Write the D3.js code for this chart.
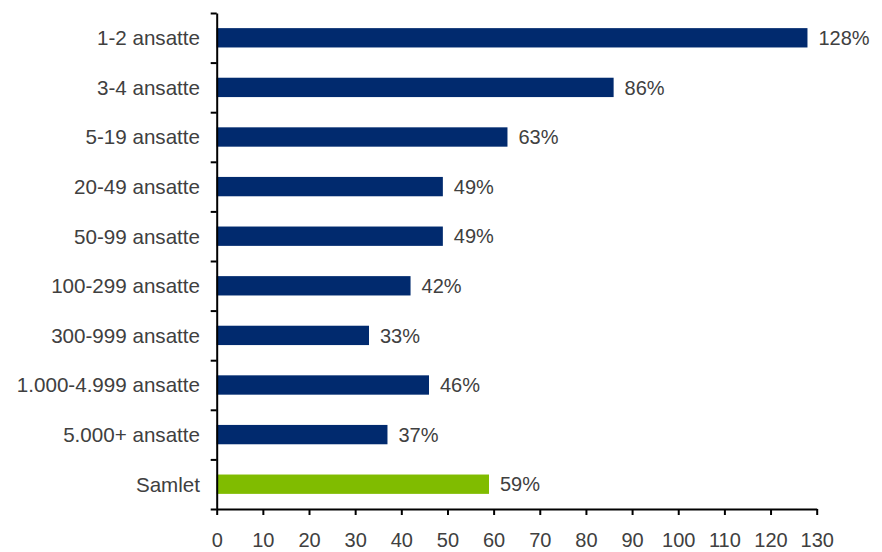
<!DOCTYPE html>
<html><head><meta charset="utf-8">
<script src="https://cdn.jsdelivr.net/npm/d3@7"></script>
<style>
html,body{margin:0;padding:0;background:#fff;}
svg{display:block;font-family:"Liberation Sans",Arial,sans-serif;}
</style></head>
<body>
<svg id="c" width="882" height="552"></svg>
<script>
const categories = ["1-2 ansatte","3-4 ansatte","5-19 ansatte","20-49 ansatte","50-99 ansatte","100-299 ansatte","300-999 ansatte","1.000-4.999 ansatte","5.000+ ansatte","Samlet"];
const values = [128, 86, 63, 49, 49, 42, 33, 46, 37, 59];
const valueLabels = ["128%","86%","63%","49%","49%","42%","33%","46%","37%","59%"];
const xTicks = [0,10,20,30,40,50,60,70,80,90,100,110,120,130];

const svg = d3.select("#c");
const x0 = 216.7, x1 = 816.7, yTop = 13, yBot = 509;
const textColor = "#404040";
const navy = "#012A6E", green = "#80BC00";

const x = d3.scaleLinear().domain([0,130]).range([x0,x1]);
const y = d3.scaleBand().domain(categories).range([yTop,yBot]).paddingInner(0.61).paddingOuter(0.305);
const yb = d3.scaleLinear().domain([0,categories.length]).range([yTop,yBot]);

// bars
svg.append("g").selectAll("rect").data(categories).join("rect")
  .attr("x", x(0))
  .attr("y", d => y(d))
  .attr("width", (d,i) => x(values[i]) - x(0))
  .attr("height", y.bandwidth())
  .attr("fill", d => d === "Samlet" ? green : navy);

// value labels
svg.append("g").selectAll("text").data(categories).join("text")
  .attr("x", (d,i) => x(values[i]) + 11)
  .attr("y", d => y(d) + y.bandwidth()/2)
  .attr("dy", "0.36em")
  .attr("font-size", 20)
  .attr("fill", textColor)
  .text((d,i) => valueLabels[i]);

// category labels
svg.append("g").selectAll("text").data(categories).join("text")
  .attr("x", 200)
  .attr("y", d => y(d) + y.bandwidth()/2)
  .attr("dy", "0.36em")
  .attr("text-anchor", "end")
  .attr("font-size", 20.6)
  .attr("fill", textColor)
  .text(d => d);

// y axis (ticks at band boundaries)
const gy = svg.append("g").attr("transform", `translate(${x0},0)`)
  .call(d3.axisLeft(yb).tickValues(d3.range(0, categories.length+1)).tickFormat("").tickSize(6).tickSizeOuter(0));
gy.select(".domain").attr("stroke","#000").attr("stroke-width",2);
gy.selectAll(".tick line").attr("stroke","#000").attr("stroke-width",2);

// x axis
const gx = svg.append("g").attr("transform", `translate(0,${yBot})`)
  .call(d3.axisBottom(x).tickValues(xTicks).tickSize(6).tickSizeOuter(0).tickPadding(18));
gx.select(".domain").attr("stroke","#000").attr("stroke-width",2);
gx.selectAll(".tick line").attr("stroke","#000").attr("stroke-width",2);
gx.selectAll(".tick text").attr("font-size",20).attr("fill",textColor).attr("font-family","Liberation Sans, Arial, sans-serif");
</script>
</body></html>
